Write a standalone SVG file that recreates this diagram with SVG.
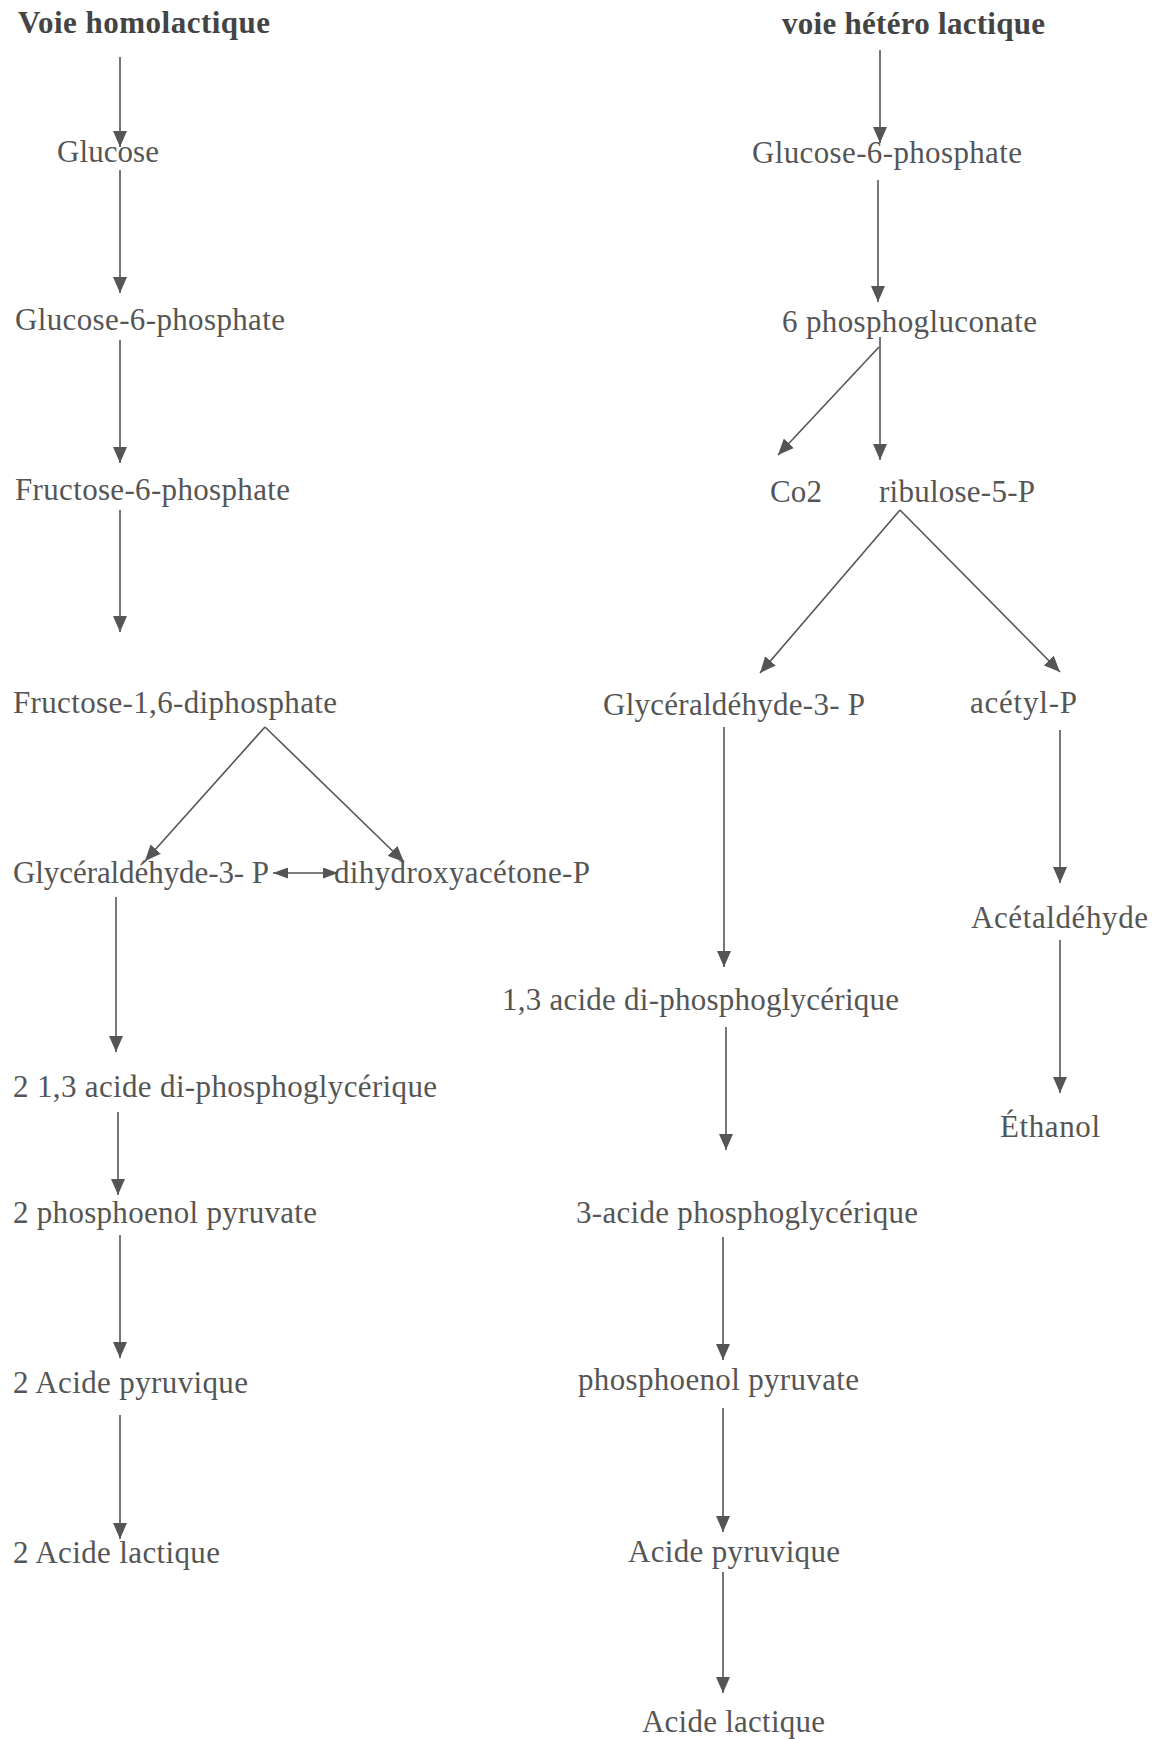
<svg xmlns="http://www.w3.org/2000/svg" width="1152" height="1739" viewBox="0 0 1152 1739">
<style>
text{font-family:"Liberation Serif","Times New Roman",serif;font-size:31px;fill:#555}
.t{font-weight:bold;fill:#444}
.c line{stroke:#555;stroke-width:1.6;fill:none}
.a{marker-end:url(#ah)}
.d{marker-end:url(#sh);marker-start:url(#sh)}
</style>
<defs>
<marker id="ah" viewBox="0 0 16 14" refX="16" refY="7" markerWidth="16" markerHeight="14" markerUnits="userSpaceOnUse" orient="auto"><path d="M0,0 L16,7 L0,14 Z" fill="#555"/></marker>
<marker id="sh" viewBox="0 0 15 11" refX="15" refY="5.5" markerWidth="15" markerHeight="11" markerUnits="userSpaceOnUse" orient="auto-start-reverse"><path d="M0,0 L15,5.5 L0,11 Z" fill="#555"/></marker>
</defs>
<rect width="1152" height="1739" fill="#fff"/>
<g id="title-homo"><text class="t" x="18" y="33" textLength="252">Voie homolactique</text></g>
<g id="title-hetero"><text class="t" x="782" y="34" textLength="263">voie hétéro lactique</text></g>
<g id="L-glucose"><text x="57" y="162" textLength="102">Glucose</text></g>
<g id="L-g6p"><text x="15" y="330" textLength="270">Glucose-6-phosphate</text></g>
<g id="L-f6p"><text x="15" y="500" textLength="275">Fructose-6-phosphate</text></g>
<g id="L-f16dp"><text x="13" y="713" textLength="324">Fructose-1,6-diphosphate</text></g>
<g id="L-g3p"><text x="13" y="883" textLength="256">Glycéraldéhyde-3- P</text></g>
<g id="L-dhap"><text x="334" y="883" textLength="256">dihydroxyacétone-P</text></g>
<g id="L-13dpg"><text x="13" y="1097" textLength="424">2 1,3 acide di-phosphoglycérique</text></g>
<g id="L-pep"><text x="13" y="1223" textLength="304">2 phosphoenol pyruvate</text></g>
<g id="L-pyr"><text x="13" y="1393" textLength="235">2 Acide pyruvique</text></g>
<g id="L-lac"><text x="13" y="1563" textLength="207">2 Acide lactique</text></g>
<g id="R-g6p"><text x="752" y="163" textLength="270">Glucose-6-phosphate</text></g>
<g id="R-6pg"><text x="782" y="332" textLength="255">6 phosphogluconate</text></g>
<g id="R-co2"><text x="770" y="502" textLength="52">Co2</text></g>
<g id="R-ru5p"><text x="879" y="502" textLength="156">ribulose-5-P</text></g>
<g id="R-g3p"><text x="603" y="715" textLength="262">Glycéraldéhyde-3- P</text></g>
<g id="R-acetylp"><text x="970" y="713" textLength="107">acétyl-P</text></g>
<g id="R-acetald"><text x="971" y="928" textLength="177">Acétaldéhyde</text></g>
<g id="R-13dpg"><text x="502" y="1010" textLength="397">1,3 acide di-phosphoglycérique</text></g>
<g id="R-ethanol"><text x="1000" y="1137" textLength="100">Éthanol</text></g>
<g id="R-3pg"><text x="576" y="1223" textLength="342">3-acide phosphoglycérique</text></g>
<g id="R-pep"><text x="578" y="1390" textLength="281">phosphoenol pyruvate</text></g>
<g id="R-pyr"><text x="628" y="1562" textLength="212">Acide pyruvique</text></g>
<g id="R-lac"><text x="642" y="1732" textLength="183">Acide lactique</text></g>
<g id="connectors" class="c">
<line class="a" x1="120" y1="57" x2="120" y2="147"/>
<line class="a" x1="120" y1="170" x2="120" y2="293"/>
<line class="a" x1="120" y1="340" x2="120" y2="463"/>
<line class="a" x1="120" y1="510" x2="120" y2="632"/>
<line class="a" x1="265" y1="727" x2="145" y2="861"/>
<line class="a" x1="265" y1="727" x2="404" y2="862"/>
<line class="d" x1="273" y1="873" x2="338" y2="873"/>
<line class="a" x1="116" y1="897" x2="116" y2="1052"/>
<line class="a" x1="118" y1="1112" x2="118" y2="1195"/>
<line class="a" x1="120" y1="1235" x2="120" y2="1358"/>
<line class="a" x1="120" y1="1415" x2="120" y2="1539"/>
<line class="a" x1="880" y1="50" x2="880" y2="143"/>
<line class="a" x1="878" y1="180" x2="878" y2="302"/>
<line class="a" x1="879" y1="347" x2="778" y2="455"/>
<line class="a" x1="880" y1="337" x2="880" y2="460"/>
<line class="a" x1="900" y1="510" x2="760" y2="673"/>
<line class="a" x1="900" y1="510" x2="1060" y2="672"/>
<line class="a" x1="724" y1="727" x2="724" y2="967"/>
<line class="a" x1="1060" y1="730" x2="1060" y2="883"/>
<line class="a" x1="726" y1="1027" x2="726" y2="1150"/>
<line class="a" x1="1060" y1="940" x2="1060" y2="1093"/>
<line class="a" x1="723" y1="1237" x2="723" y2="1360"/>
<line class="a" x1="723" y1="1408" x2="723" y2="1532"/>
<line class="a" x1="723" y1="1572" x2="723" y2="1693"/>
</g>
</svg>
